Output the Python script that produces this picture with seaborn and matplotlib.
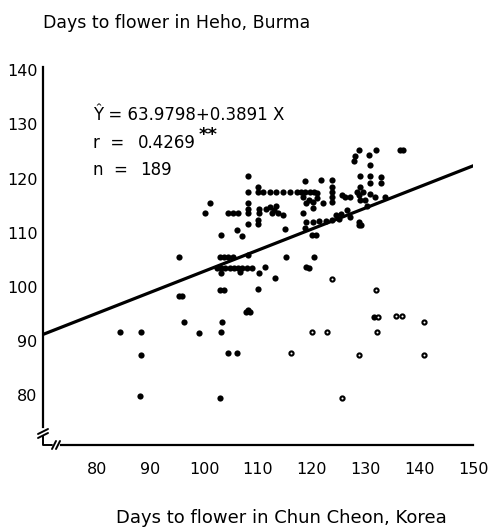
import numpy as np
import seaborn as sns
import matplotlib
matplotlib.use("Agg")
import matplotlib.pyplot as plt

# regression shown on the chart
intercept = 63.9798
slope = 0.3891
r_value = "0.4269"
n_value = "189"

# filled dots (Chun Cheon days, Heho days)
filled_x = [84.3, 88.2, 88.3, 88.1, 95.3, 95.3, 95.9, 96.2, 99.1, 103.0,
            103.3, 103.2, 104.5, 106.1, 107.8, 108.2, 108.5, 103.0, 103.6, 110.0,
            103.2, 106.6, 110.2, 111.3, 113.1,
            102.3, 103.1, 103.9, 104.7, 105.5, 106.3, 107.1, 107.9, 108.8,
            102.9, 103.7, 104.5, 105.3, 108.2,
            103.2, 106.0, 107.1, 108.2, 110.0, 110.0, 100.1, 101.0,
            104.4, 105.3, 106.3, 108.1, 108.1, 108.1, 108.1, 108.1,
            110.0, 110.0, 111.0, 110.2, 110.2,
            112.2, 113.4, 114.6, 115.9, 112.2, 113.0, 113.8, 114.6, 112.6, 113.4, 111.5,
            115.0, 118.7, 115.3, 120.5, 118.9, 119.5, 120.0, 120.8,
            117.2, 118.0, 118.8, 119.6, 120.4, 121.0,
            118.4, 119.4, 120.3, 120.9, 119.0, 118.7, 121.8,
            123.7, 123.7, 123.7, 123.7, 123.7,
            125.6, 126.2, 127.1, 129.0, 122.1, 120.3, 118.4,
            126.5, 127.1, 128.7, 128.7, 129.2,
            119.0, 120.2, 121.4, 122.6, 123.8, 125.0, 124.5, 125.5,
            128.8, 128.0, 127.8, 130.7, 132.0, 136.4, 137.0,
            130.8, 128.9, 130.8, 130.8, 132.8, 132.8,
            129.0, 128.4, 129.6, 130.8, 131.8, 129.9, 133.6,
            130.2, 128.8, 131.6]
filled_y = [91.7, 91.7, 87.5, 79.9, 105.6, 98.4, 98.4, 93.6, 91.4, 79.5,
            93.6, 91.7, 87.7, 87.7, 95.4, 95.8, 95.3, 99.5, 99.5, 99.6,
            102.5, 102.8, 102.5, 103.6, 101.6,
            103.5, 103.5, 103.5, 103.5, 103.5, 103.5, 103.5, 103.5, 103.5,
            105.6, 105.6, 105.6, 105.6, 105.9,
            109.6, 110.5, 109.4, 111.7, 111.7, 112.3, 113.6, 115.5,
            113.6, 113.6, 113.6, 113.6, 114.4, 115.4, 117.5, 120.4,
            118.5, 117.5, 117.5, 113.6, 114.4,
            117.5, 117.5, 117.5, 117.5, 114.8, 114.2, 113.6, 113.2, 113.6, 115.0, 114.4,
            110.6, 110.8, 105.6, 105.6, 103.6, 103.4, 109.6, 109.6,
            117.5, 117.5, 117.5, 117.5, 117.5, 117.3,
            116.6, 116.0, 115.6, 116.4, 115.4, 119.5, 119.7,
            119.7, 118.5, 117.5, 116.6, 115.6,
            116.9, 116.6, 116.6, 116.0, 115.4, 114.5, 113.6,
            114.2, 112.9, 112.0, 111.4, 111.4,
            112.0, 112.0, 112.1, 112.2, 112.3, 112.6, 113.2, 113.5,
            125.2, 124.2, 123.3, 124.3, 125.2, 125.2, 125.2,
            122.5, 120.5, 120.5, 119.2, 120.2, 119.2,
            118.4, 117.5, 117.5, 117.2, 116.6, 116.0, 116.6,
            115.0, 117.0, 94.5]

# open (ring) dots
open_x = [116.1, 120.0, 122.9, 132.3, 132.1, 128.8, 131.9, 135.6, 136.7, 140.9, 140.8, 125.7, 123.7]
open_y = [87.7, 91.6, 91.6, 94.5, 91.6, 87.5, 99.4, 94.6, 94.6, 93.5, 87.5, 79.5, 101.4]

x_ticks = [80, 90, 100, 110, 120, 130, 140, 150]
y_ticks = [80, 90, 100, 110, 120, 130, 140]

title_text = "Days to flower in Heho, Burma"
xlabel_text = "Days to flower in Chun Cheon, Korea"

sns.set_style("white")
plt.rcParams['font.family'] = ['DejaVu Sans']
plt.rcParams['text.color'] = 'black'

W, H = 490, 531
fig = plt.figure(figsize=(W / 100, H / 100), dpi=100)
ax = fig.add_axes([43 / W, 1 - 445 / H, 430 / W, 378 / H])

# regression line
line_x = np.array([70.0, 150.5])
sns.lineplot(x=line_x, y=intercept + slope * line_x, color='black', linewidth=2.3, ax=ax)

sns.scatterplot(x=filled_x, y=filled_y, color='black', s=20, linewidth=0, ax=ax, zorder=3)
sns.scatterplot(x=open_x, y=open_y, facecolor='white', edgecolor='black', s=9,
                linewidth=1.5, ax=ax, zorder=3)

ax.set_xlim(70, 150)
ax.set_ylim(70.8, 140.6)
ax.set_xticks(x_ticks)
ax.set_yticks(y_ticks)
ax.tick_params(length=0, labelsize=11.5, labelcolor='black')
ax.tick_params(axis='x', pad=12)
ax.tick_params(axis='y', pad=4)

for side in ['top', 'right']:
    ax.spines[side].set_visible(False)
for side in ['left', 'bottom']:
    ax.spines[side].set_linewidth(1.6)
    ax.spines[side].set_color('black')
ax.spines['left'].set_bounds(74.2, 140.6)
ax.spines['bottom'].set_bounds(73.4, 150)

# axis break marks in the lower left corner
def px(xp, yp):
    return (xp - 43) / 430, (445 - yp) / 378

brk = dict(color='black', linewidth=1.4, transform=ax.transAxes, clip_on=False)
for seg in [[(38, 434), (48, 429)], [(38, 438), (48, 433)],
            [(43, 436), (43, 445), (52, 445)],
            [(52, 449), (56, 441)], [(56, 449), (60, 441)]]:
    pts = [px(a, b) for a, b in seg]
    ax.plot([p[0] for p in pts], [p[1] for p in pts], **brk)

# statistics text
fig.text(93 / W, 1 - 120 / H, "Ŷ = 63.9798+0.3891 X", fontsize=12, va='baseline')
fig.text(93 / W, 1 - 148 / H, "r  =", fontsize=12, va='baseline')
fig.text(138 / W, 1 - 148 / H, r_value, fontsize=12, va='baseline')
fig.text(199 / W, 1 - 140 / H, "**", fontsize=13, fontweight='bold', va='baseline')
fig.text(93 / W, 1 - 175 / H, "n  =", fontsize=12, va='baseline')
fig.text(140 / W, 1 - 175 / H, n_value, fontsize=12, va='baseline')

fig.text(43 / W, 1 - 23 / H, title_text, fontsize=12.5, va='center', ha='left')
fig.text(281 / W, 1 - 518 / H, xlabel_text, fontsize=13, va='center', ha='center')

fig.savefig("out.png", dpi=100)
